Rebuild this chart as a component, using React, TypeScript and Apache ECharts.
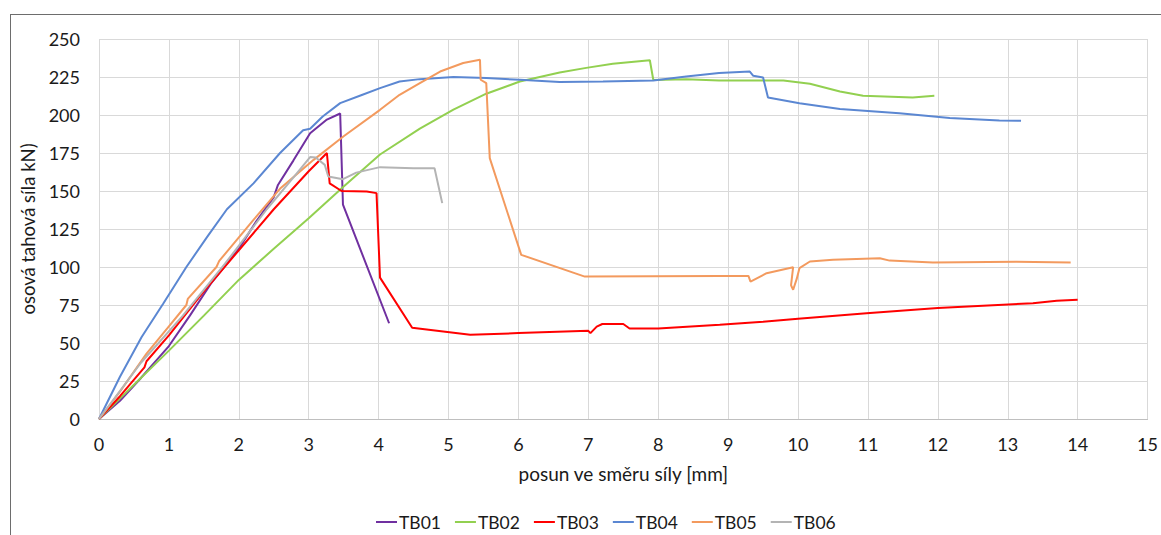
import React, { useEffect, useRef } from "react";
import * as echarts from "echarts";

const seriesNames = ["TB01", "TB02", "TB03", "TB04", "TB05", "TB06"];
const seriesColors = ["#7030a0", "#92d050", "#ff0000", "#5b87d2", "#f39a5e", "#b4b4b4"];

const TB01: number[][] = [
  [0, 0], [0.3, 12], [0.6, 27], [1.0, 48], [1.3, 68], [1.6, 89], [2.0, 112], [2.25, 130],
  [2.5, 146], [2.56, 154], [2.78, 170], [3.02, 188], [3.26, 197], [3.45, 201],
  [3.49, 141], [4.15, 63],
];
const TB02: number[][] = [
  [0, 0], [0.5, 22.5], [1.0, 45], [1.5, 68], [2.0, 91.5], [2.5, 112], [3.0, 132],
  [3.5, 153], [4.02, 174], [4.59, 191], [5.07, 203.5], [5.54, 214], [6.02, 222],
  [6.59, 228], [6.97, 231], [7.35, 233.7], [7.88, 236], [7.93, 223], [8.4, 223.5],
  [8.87, 222.7], [9.79, 222.7], [10.17, 220.5], [10.6, 215.5], [10.93, 212.6],
  [11.64, 211.5], [11.95, 212.6],
];
const TB03: number[][] = [
  [0, 0], [0.3, 15], [0.65, 34], [0.68, 38], [1.0, 55], [1.5, 84], [2.0, 111],
  [2.5, 138], [3.0, 163], [3.26, 175], [3.3, 155], [3.47, 150], [3.83, 149.6],
  [3.97, 148.6], [4.02, 93], [4.48, 60], [5.31, 55.5], [6.0, 56.5], [7.0, 58],
  [7.03, 56.5], [7.12, 60.8], [7.2, 62.5], [7.5, 62.5], [7.59, 59.5], [8.0, 59.5],
  [8.88, 62], [9.5, 64], [10.0, 66], [10.98, 69.6], [12.0, 73], [13.36, 76.2],
  [13.7, 77.8], [14.0, 78.5],
];
const TB04: number[][] = [
  [0, 0], [0.3, 27.8], [0.61, 54], [0.92, 76], [1.25, 100], [1.55, 120], [1.83, 138],
  [2.21, 155], [2.59, 175], [2.92, 190], [3.02, 191], [3.2, 199], [3.45, 207.8],
  [3.75, 213], [4.02, 217.7], [4.3, 222], [4.59, 223.6], [5.07, 225], [5.54, 224.3],
  [6.02, 223.2], [6.59, 221.7], [7.21, 222], [7.93, 222.7], [8.4, 225.3], [8.87, 227.6],
  [9.31, 228.6], [9.36, 225.8], [9.5, 224.7], [9.57, 211.5], [10.02, 207.8],
  [10.6, 204], [11.45, 201.2], [12.17, 198], [12.88, 196.4], [13.19, 196.2],
];
const TB05: number[][] = [
  [0, 0], [0.3, 18], [0.68, 43], [1.0, 61], [1.25, 75], [1.27, 79], [1.68, 100],
  [1.72, 104], [2.21, 131], [2.6, 152], [3.07, 170.5], [3.5, 186], [4.02, 203.4],
  [4.3, 213.3], [4.59, 221], [4.88, 228.6], [5.21, 234.2], [5.45, 236.3], [5.46, 223.2],
  [5.54, 221], [5.59, 171.6], [6.04, 108], [6.95, 93.7], [8.88, 94.1], [9.29, 94.1],
  [9.32, 90.4], [9.55, 95.9], [9.93, 99.9], [9.9, 88], [9.93, 85], [9.98, 92],
  [10.02, 99.2], [10.17, 103.6], [10.5, 104.7], [11.17, 105.8], [11.31, 104.2],
  [11.93, 102.9], [13.12, 103.4], [13.9, 102.9],
];
const TB06: number[][] = [
  [0, 0], [0.6, 37], [1.2, 68], [1.8, 102], [2.4, 138], [2.8, 160], [3.02, 172.3],
  [3.1, 172], [3.23, 167.2], [3.28, 159.5], [3.49, 157.8], [3.68, 162.1], [4.02, 165.7],
  [4.5, 165], [4.8, 165], [4.91, 142],
];
const seriesData = [TB01, TB02, TB03, TB04, TB05, TB06];

const xAxisTitle = "posun ve směru síly [mm]";
const yAxisTitle = "osová tahová síla kN)";

const FONT = "Lato, 'Open Sans', sans-serif";
const TXT = "#1a1a1a";

export default function App() {
  const ref = useRef<HTMLDivElement>(null);
  useEffect(() => {
    if (!ref.current) return;
    const chart = echarts.init(ref.current, undefined, { renderer: "svg" });
    chart.setOption({
      animation: false,
      backgroundColor: "#ffffff",
      textStyle: { fontFamily: FONT },
      grid: { left: 99, right: 13, top: 39, bottom: 116, containLabel: false },
      graphic: [
        { type: "line", shape: { x1: 10, y1: 14.5, x2: 1161, y2: 14.5 }, style: { stroke: "#6d6d6d", lineWidth: 1 } },
        { type: "line", shape: { x1: 10.5, y1: 14, x2: 10.5, y2: 535 }, style: { stroke: "#6d6d6d", lineWidth: 1 } },
      ],
      legend: {
        top: 512,
        left: 376,
        padding: 0,
        itemWidth: 21,
        itemHeight: 2,
        itemGap: 14,
        icon: "rect",
        textStyle: { fontFamily: FONT, fontSize: 17.5, lineHeight: 20, color: TXT, padding: [0, 0, 0, -3] },
        data: seriesNames,
      },
      xAxis: {
        type: "value",
        min: 0,
        max: 15,
        interval: 1,
        name: xAxisTitle,
        nameLocation: "middle",
        nameGap: 45,
        nameTextStyle: { fontFamily: FONT, fontSize: 19, color: TXT },
        axisLine: { show: true, lineStyle: { color: "#bfbfbf", width: 1 } },
        axisTick: { show: false },
        axisLabel: { fontFamily: FONT, fontSize: 18, color: TXT, margin: 16 },
        splitLine: { show: true, lineStyle: { color: "#d9d9d9", width: 1 } },
      },
      yAxis: {
        type: "value",
        min: 0,
        max: 250,
        interval: 25,
        name: yAxisTitle,
        nameLocation: "middle",
        nameGap: 48,
        nameTextStyle: { fontFamily: FONT, fontSize: 18.5, color: TXT },
        axisLine: { show: false },
        axisTick: { show: false },
        axisLabel: { fontFamily: FONT, fontSize: 18, color: TXT, margin: 19 },
        splitLine: { show: true, lineStyle: { color: "#d9d9d9", width: 1 } },
      },
      series: seriesNames.map((name, i) => ({
        name,
        type: "line",
        data: seriesData[i],
        showSymbol: false,
        symbol: "none",
        color: seriesColors[i],
        lineStyle: { color: seriesColors[i], width: 2 },
        z: 2 + i,
      })),
    });
    return () => chart.dispose();
  }, []);
  return (
    <div
      ref={ref}
      style={{ position: "absolute", left: 0, top: 0, width: 1161, height: 535 }}
    />
  );
}
